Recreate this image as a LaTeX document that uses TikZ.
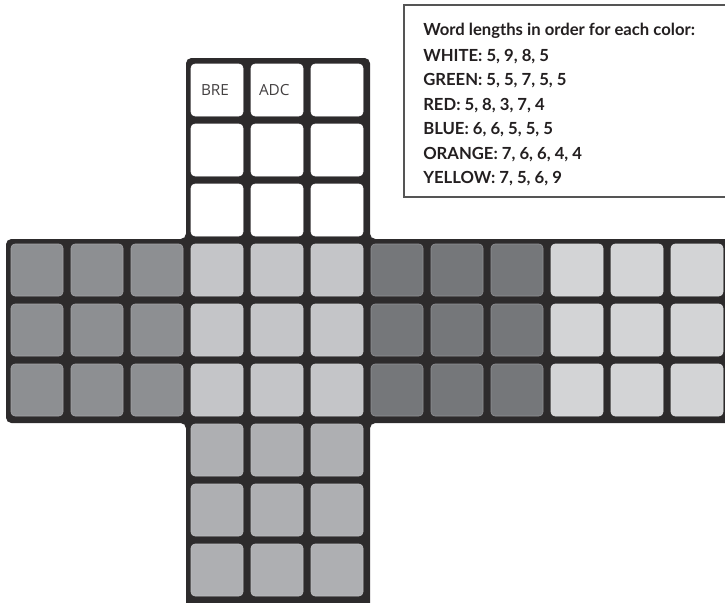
\documentclass[tikz,border=0pt]{standalone}
\usepackage{fontspec}
\newfontfamily\lato{Lato}
\newfontfamily\opensans{Open Sans}
\usetikzlibrary{positioning}
\definecolor{FrameBlack}{RGB}{45,43,44}
\definecolor{BoxGray}{RGB}{85,85,85}
\definecolor{InkBlack}{RGB}{35,31,32}
\definecolor{FaceTop}{RGB}{255,255,255}
\definecolor{FaceLeft}{RGB}{141,143,146}
\definecolor{FaceFront}{RGB}{196,197,200}
\definecolor{FaceRight}{RGB}{117,119,122}
\definecolor{FaceBack}{RGB}{211,212,214}
\definecolor{FaceBottom}{RGB}{174,175,178}

\begin{document}
\begin{tikzpicture}[x=0.75pt,y=-0.75pt,
  cell/.style={fill=#1,draw=#1!80!white,line width=0.4pt,rounded corners=3pt,
    minimum size=39pt,inner sep=0pt},
  boxline/.style={anchor=base west,inner sep=0pt,text=InkBlack,
    font=\lato\bfseries\fontsize{12.5}{14}\selectfont},
  celltext/.style={anchor=base west,inner sep=0pt,text=InkBlack!85!white,
    font=\opensans\fontsize{11.5}{13}\selectfont}]
  \useasboundingbox (0,0) rectangle (725,603);
  % cube net frame
  \fill[FrameBlack,rounded corners=4pt] (186,58) -- (370,58) -- (370,239) -- (740,239)
    -- (740,423) -- (370,423) -- (370,615) -- (186,615) -- (186,423) -- (6,423)
    -- (6,239) -- (186,239) -- cycle;
  % top face
  \foreach \r in {0,1,2}
    \foreach \c in {3,4,5}
      \node[cell=FaceTop] (t-\r-\c) at (\c*60+37,\r*60+90) {};
  % middle band
  \foreach \first/\shade in {0/FaceLeft,3/FaceFront,6/FaceRight,9/FaceBack}
    \foreach \r in {3,4,5}
      \foreach \d in {0,1,2}{
        \pgfmathtruncatemacro{\c}{\first+\d}
        \node[cell=\shade] (m-\r-\c) at (\c*60+37,\r*60+90) {};
      }
  % bottom face
  \foreach \r in {6,7,8}
    \foreach \c in {3,4,5}
      \node[cell=FaceBottom] (b-\r-\c) at (\c*60+37,\r*60+90) {};
  \node[celltext] (bre) at ([xshift=7.5pt,yshift=-3.75pt]t-0-3.west) {BRE};
  \node[celltext] (adc) at ([xshift=6pt,yshift=-3.75pt]t-0-4.west) {ADC};
  % word lengths box
  \draw[BoxGray,fill=white,line width=0.8pt] (404,5) rectangle (740,197);
  \node[boxline] (title) at (423,36) {Word lengths in order for each color:};
  \node[boxline] (white) at (423,61) {WHITE: 5, 9, 8, 5};
  \node[boxline] (green) at (423,85.5) {GREEN: 5, 5, 7, 5, 5};
  \node[boxline] (red) at (423,110) {RED: 5, 8, 3, 7, 4};
  \node[boxline] (blue) at (423,134.5) {BLUE: 6, 6, 5, 5, 5};
  \node[boxline] (orange) at (423,159) {ORANGE: 7, 6, 6, 4, 4};
  \node[boxline] (yellow) at (423,183.5) {YELLOW: 7, 5, 6, 9};
\end{tikzpicture}
\end{document}
